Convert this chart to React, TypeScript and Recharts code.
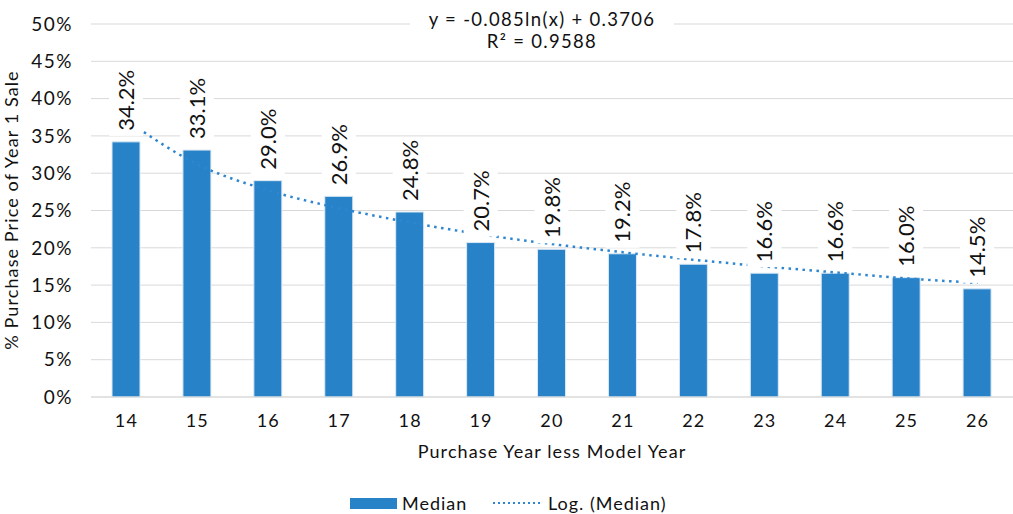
import React from 'react';
import { ComposedChart, Bar, Line, XAxis, YAxis, CartesianGrid, Legend, LabelList } from 'recharts';

const years = ['14', '15', '16', '17', '18', '19', '20', '21', '22', '23', '24', '25', '26'];
const median = [34.2, 33.1, 29.0, 26.9, 24.8, 20.7, 19.8, 19.2, 17.8, 16.6, 16.6, 16.0, 14.5];
// log trend of the median series, y = -0.085ln(x) + 0.3706
const logTrend = [37.1, 31.2, 27.7, 25.3, 23.4, 21.8, 20.5, 19.4, 18.4, 17.5, 16.7, 15.9, 15.3];
const yTicks = [0, 5, 10, 15, 20, 25, 30, 35, 40, 45, 50];

const FONT = 'Lato, "Noto Sans", sans-serif';
const BAR_COLOR = '#2882C8';
const TREND_COLOR = '#2E86D0';

const chartData = years.map((year, i) => ({
  year,
  median: median[i],
  trend: logTrend[i],
}));

const BarValueLabel = (props: any) => {
  const { x, y, width, value } = props;
  const cx = Number(x) + Number(width) / 2;
  const top = Number(y);
  const start = top - 11;
  const textLen = 58;
  return (
    <g>
      <rect x={cx - 17} y={start - textLen - 5} width={34} height={textLen + 10} fill="#fff" />
      <text
        x={cx + 8}
        y={start}
        transform={`rotate(-90 ${cx + 8} ${start})`}
        textAnchor="start"
        fontSize={22}
        fontFamily={FONT}
        fill="#111"
      >
        {`${Number(value).toFixed(1)}%`}
      </text>
    </g>
  );
};

const LegendContent = () => (
  <div style={{ height: 47, position: 'relative', fontFamily: FONT, fontSize: 18, color: '#111', letterSpacing: 1 }}>
    <div style={{ position: 'absolute', left: 350, top: 31, width: 47, height: 11, background: BAR_COLOR }} />
    <span style={{ position: 'absolute', left: 402, top: 24, lineHeight: '24px' }}>Median</span>
    <svg style={{ position: 'absolute', left: 493, top: 34 }} width={48} height={4}>
      <line x1={0} y1={2} x2={48} y2={2} stroke={TREND_COLOR} strokeWidth={2} strokeDasharray="2 3" />
    </svg>
    <span style={{ position: 'absolute', left: 548, top: 24, lineHeight: '24px' }}>Log. (Median)</span>
  </div>
);

const App: React.FC = () => {
  return (
    <div style={{ position: 'absolute', left: 0, top: 0, width: 1013, height: 514, background: '#fff' }}>
      <ComposedChart
        width={1013}
        height={514}
        data={chartData}
        margin={{ top: 24, right: 0, left: 0, bottom: 0 }}
        style={{ fontFamily: FONT }}
      >
        <CartesianGrid vertical={false} stroke="#d9d9d9" strokeWidth={1} />
        <XAxis
          dataKey="year"
          height={70}
          tickLine={false}
          axisLine={{ stroke: '#d9d9d9' }}
          tickSize={0}
          tickMargin={17}
          tick={{ fontSize: 18, fill: '#111', fontFamily: FONT, letterSpacing: 1.2 }}
          label={{
            content: (p: any) => {
              const vb = p.viewBox;
              return (
                <text
                  x={vb.x + vb.width / 2}
                  y={vb.y + 61}
                  textAnchor="middle"
                  fontSize={18}
                  fontFamily={FONT}
                  letterSpacing={1.1}
                  fill="#111"
                >
                  Purchase Year less Model Year
                </text>
              );
            },
          }}
        />
        <YAxis
          width={91}
          domain={[0, 50]}
          ticks={yTicks}
          interval={0}
          tickLine={false}
          axisLine={false}
          tickSize={0}
          tickMargin={18}
          tickFormatter={(v: number) => `${v}%`}
          tick={{ fontSize: 19, fill: '#111', fontFamily: FONT, letterSpacing: 1.5 }}
          label={{
            content: () => (
              <text
                x={18}
                y={210}
                transform="rotate(-90 18 210)"
                textAnchor="middle"
                fontSize={18}
                fontFamily={FONT}
                letterSpacing={1.1}
                fill="#111"
              >
                % Purchase Price of Year 1 Sale
              </text>
            ),
          }}
        />
        <Legend verticalAlign="bottom" content={<LegendContent />} />
        <Bar dataKey="median" name="Median" fill={BAR_COLOR} stroke="#dce9f5" strokeWidth={1} barSize={28} isAnimationActive={false}>
          <LabelList dataKey="median" content={<BarValueLabel />} />
        </Bar>
        <Line
          dataKey="trend"
          name="Log. (Median)"
          type="monotone"
          stroke={TREND_COLOR}
          strokeWidth={2.5}
          strokeDasharray="2.5 4.5"
          dot={false}
          activeDot={false}
          isAnimationActive={false}
        />
      </ComposedChart>
      <div
        style={{
          position: 'absolute',
          left: 410,
          top: 8,
          width: 264,
          background: '#fff',
          textAlign: 'center',
          fontFamily: FONT,
          fontSize: 18.5,
          lineHeight: '22px',
          letterSpacing: 1.3,
          color: '#111',
        }}
      >
        <div>y = -0.085ln(x) + 0.3706</div>
        <div>R² = 0.9588</div>
      </div>
    </div>
  );
};

export default App;
